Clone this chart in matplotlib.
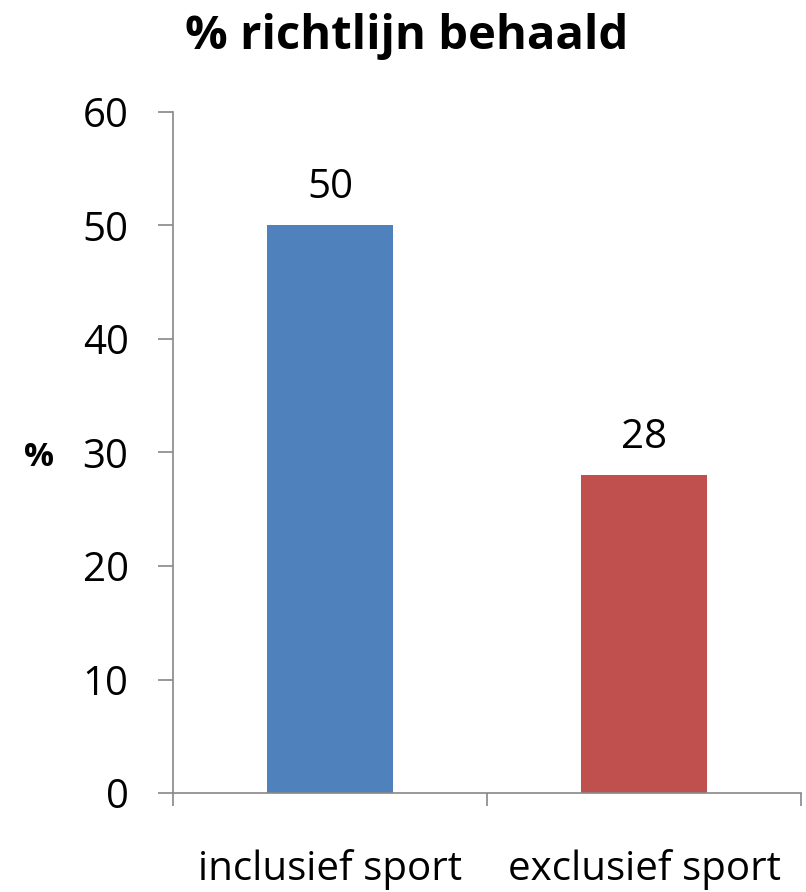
import matplotlib
matplotlib.use("Agg")
import matplotlib.pyplot as plt

categories = ["inclusief sport", "exclusief sport"]
values = [50, 28]
colors = ["#4F81BD", "#C0504D"]
yticks = [0, 10, 20, 30, 40, 50, 60]

plt.rcParams['font.family'] = ['Open Sans', 'DejaVu Sans']

fig = plt.figure(figsize=(8.06, 8.92), dpi=100)
ax = fig.add_axes([173/806, 1-793/892, 628/806, (793-112)/892])

x = list(range(len(categories)))
bars = ax.bar(x, values, width=0.4, color=colors)
for xi, v in zip(x, values):
    ax.text(xi, v + 1.5, str(v), ha='center', va='bottom', fontsize=29)

ax.set_xlim(-0.5, 1.5)
ax.set_ylim(0, 60)
ax.set_yticks(yticks)
ax.set_yticklabels([str(t) for t in yticks], fontsize=29)
ax.set_xticks([-0.5, 0.5, 1.5])
ax.set_xticklabels([])
for xi, c in zip(x, categories):
    ax.text(xi, -4.9, c, ha='center', va='top', fontsize=29)

for s in ['top', 'right']:
    ax.spines[s].set_visible(False)
for s in ['left', 'bottom']:
    ax.spines[s].set_color('#888888')
    ax.spines[s].set_linewidth(1.2)
ax.tick_params(axis='y', direction='out', length=11, color='#888888', width=1.2, pad=21)
ax.tick_params(axis='x', direction='out', length=9, color='#888888', width=1.2)

fig.text(39/806, 1-457/892, '%', ha='center', va='center', fontsize=24, fontweight='bold')
fig.text(407/806, 1-37/892, '% richtlijn behaald', ha='center', va='center', fontsize=34, fontweight='bold')

fig.savefig('out.png', dpi=100)
